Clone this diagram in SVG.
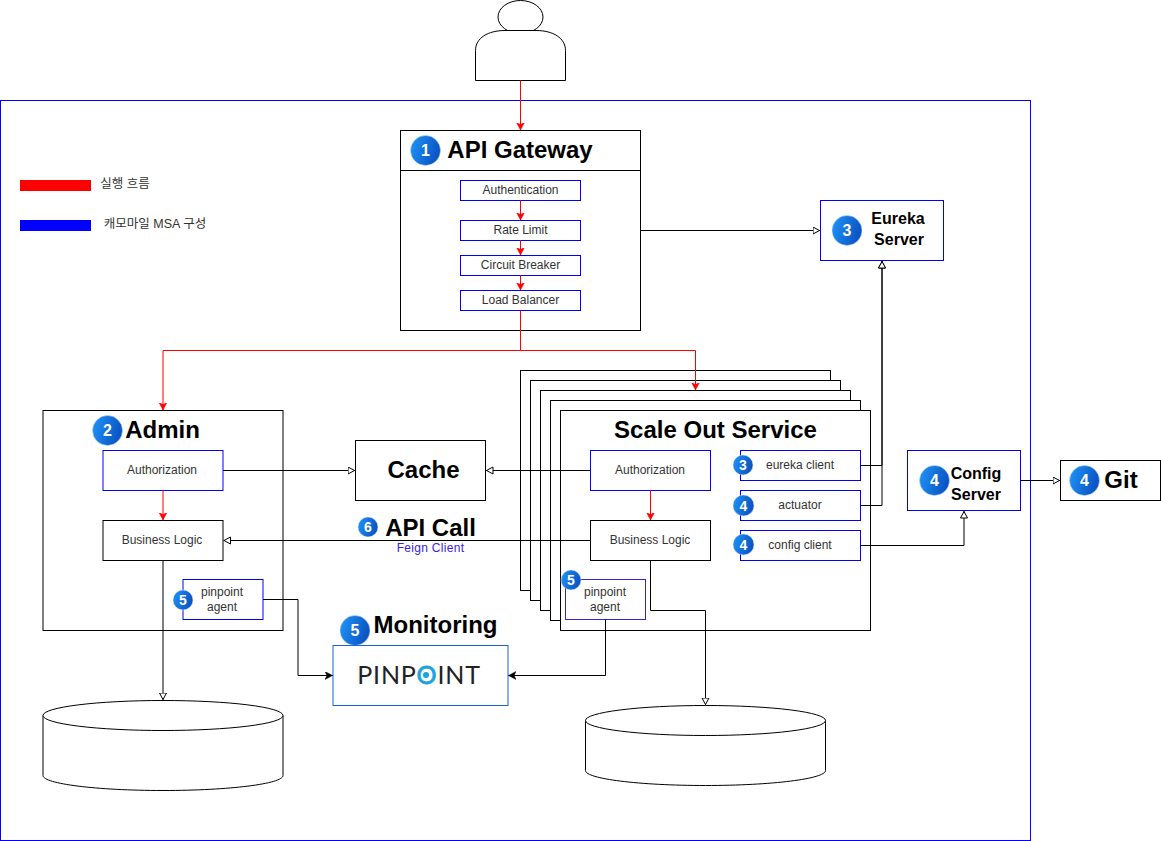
<svg xmlns="http://www.w3.org/2000/svg" width="1161" height="841" viewBox="0 0 1161 841">
<style>
text{font-family:"Liberation Sans","Noto Sans CJK KR",sans-serif;text-anchor:middle;fill:#1a1a1a}
.s{font-size:12px;fill:#333}
.l{font-size:12.5px;fill:#333}
.h{font-size:24px;font-weight:700;fill:#000}
.m{font-size:16px;font-weight:700;fill:#000}
.bt{fill:#fff;font-weight:700;text-anchor:middle}
.k{fill:#fff;stroke:#000;stroke-width:1}
.b{fill:#fff;stroke:#00f;stroke-width:1}
.p{fill:#fff;stroke:#3a22d0;stroke-width:1}
.bd{fill:url(#g);stroke:#cfe3fa;stroke-width:.5}
.cr{fill:none;stroke:#f00;stroke-width:1;marker-end:url(#ra)}
.ch{fill:none;stroke:#000;stroke-width:1;marker-end:url(#ha)}
.cb{fill:none;stroke:#000;stroke-width:1;marker-end:url(#ba)}
.cn{fill:none;stroke:#f00;stroke-width:1}
</style>
<defs>
<linearGradient id="g" x1="0" y1="0" x2="1" y2="0.3"><stop offset="0" stop-color="#2196f8"/><stop offset="1" stop-color="#0a55c4"/></linearGradient>
<marker id="ra" markerUnits="userSpaceOnUse" markerWidth="9" markerHeight="9" refX="7.500" refY="4" orient="auto"><path d="M0 0L7.500 4L0 8L2 4Z" fill="#f00" stroke="#f00" stroke-width=".5"/></marker>
<marker id="ba" markerUnits="userSpaceOnUse" markerWidth="9" markerHeight="9" refX="7.500" refY="4" orient="auto"><path d="M0 0L7.500 4L0 8L2 4Z" fill="#000" stroke="#000" stroke-width=".5"/></marker>
<marker id="ha" markerUnits="userSpaceOnUse" markerWidth="10" markerHeight="10" refX="7.500" refY="4" orient="auto"><path d="M.5 .5L7 4L.5 7.500Z" fill="#fff" stroke="#000" stroke-width="1"/></marker>
</defs>
<rect id="boundary" x="0.500" y="100.500" width="1030" height="740" fill="#fff" stroke="#00f"/>
<g id="legend">
<rect x="20" y="180" width="71" height="11" fill="#f00"/>
<text class="l" x="125" y="188">실행 흐름</text>
<rect x="20" y="220" width="71" height="11" fill="#00f"/>
<text class="l" x="155" y="228">캐모마일 MSA 구성</text>
</g>
<g id="user"><ellipse cx="520.500" cy="17" rx="22.500" ry="16.500" class="k"/><path class="k" d="M475.500 80.500V50.500C475.500 38 488 30.500 505 30.500H536C553 30.500 565.500 38 565.500 50.500V80.500Z"/></g>
<g id="gateway">
<rect class="k" x="400.500" y="130.500" width="240" height="200"/><path d="M400.500 170.500H640.500" stroke="#000"/>
<circle class="bd" cx="425.500" cy="150.500" r="15"/><text class="bt" x="425.500" y="156" font-size="16">1</text>
<text class="h" x="520" y="158">API Gateway</text>
</g>
<g id="auth"><rect class="b" x="460.500" y="180.500" width="120" height="20"/><text class="s" x="520.500" y="194">Authentication</text></g>
<g id="rate"><rect class="b" x="460.500" y="220.500" width="120" height="20"/><text class="s" x="520.500" y="234">Rate Limit</text></g>
<g id="circuit"><rect class="b" x="460.500" y="255.500" width="120" height="20"/><text class="s" x="520.500" y="269">Circuit Breaker</text></g>
<g id="load"><rect class="b" x="460.500" y="290.500" width="120" height="20"/><text class="s" x="520.500" y="304">Load Balancer</text></g>
<g id="eureka"><rect class="b" x="820.500" y="200.500" width="123" height="60"/><circle class="bd" cx="847" cy="230.500" r="15"/><text class="bt" x="847" y="236" font-size="16">3</text><text class="m" x="898" y="224">Eureka</text><text class="m" x="899" y="245">Server</text></g>
<g id="admin"><rect class="k" x="43" y="410.500" width="240" height="220"/><circle class="bd" cx="107.500" cy="430.500" r="15"/><text class="bt" x="107.500" y="436" font-size="16">2</text><text class="h" x="162.500" y="438">Admin</text></g>
<g id="admin-authorization"><rect class="b" x="103" y="450.500" width="120" height="40"/><text class="s" x="162" y="474">Authorization</text></g>
<g id="admin-logic"><rect class="k" x="103" y="520.500" width="120" height="40"/><text class="s" x="162" y="544">Business Logic</text></g>
<g id="admin-agent"><rect class="b" x="183" y="579.500" width="80" height="40"/><circle class="bd" cx="183" cy="600" r="10"/><text class="bt" x="183" y="605" font-size="14">5</text><text class="s" x="222" y="596">pinpoint</text><text class="s" x="222" y="611">agent</text></g>
<g id="cache"><rect class="k" x="355.500" y="440.500" width="130" height="60"/><text class="h" x="423.500" y="478">Cache</text></g>
<g id="service">
<rect class="k" x="520.500" y="370.500" width="310" height="220"/>
<rect class="k" x="530.500" y="380.500" width="310" height="220"/>
<rect class="k" x="540.500" y="390.500" width="310" height="220"/>
<rect class="k" x="550.500" y="400.500" width="310" height="220"/>
<rect class="k" x="560.500" y="410.500" width="310" height="220"/>
<text class="h" x="715.500" y="438">Scale Out Service</text>
</g>
<g id="svc-authorization"><rect class="b" x="590.500" y="450.500" width="120" height="40"/><text class="s" x="650" y="474">Authorization</text></g>
<g id="svc-logic"><rect class="k" x="590.500" y="520.500" width="120" height="40"/><text class="s" x="650" y="544">Business Logic</text></g>
<g id="svc-agent"><rect class="p" x="565.500" y="579.500" width="80" height="40"/><circle class="bd" cx="571" cy="580" r="10"/><text class="bt" x="571" y="585" font-size="14">5</text><text class="s" x="605" y="596">pinpoint</text><text class="s" x="605" y="611">agent</text></g>
<g id="eureka-client"><rect class="b" x="740.500" y="450.500" width="120" height="30"/><circle class="bd" cx="743" cy="465" r="10"/><text class="bt" x="743" y="470" font-size="14">3</text><text class="s" x="800" y="469">eureka client</text></g>
<g id="actuator"><rect class="b" x="740.500" y="490.500" width="120" height="30"/><circle class="bd" cx="743.500" cy="505.500" r="10.500"/><text class="bt" x="743.500" y="510.500" font-size="14">4</text><text class="s" x="800" y="509">actuator</text></g>
<g id="config-client"><rect class="b" x="740.500" y="530.500" width="120" height="30"/><circle class="bd" cx="743.500" cy="544.500" r="10.500"/><text class="bt" x="743.500" y="549.500" font-size="14">4</text><text class="s" x="800" y="549">config client</text></g>
<g id="config-server"><rect class="b" x="907.500" y="450.500" width="113" height="60"/><circle class="bd" cx="934.500" cy="480.500" r="15"/><text class="bt" x="934.500" y="486" font-size="16">4</text><text class="m" x="976" y="479">Config</text><text class="m" x="976" y="500">Server</text></g>
<g id="git"><rect class="k" x="1060.500" y="460.500" width="100" height="40"/><circle class="bd" cx="1084.500" cy="480.500" r="15"/><text class="bt" x="1084.500" y="486" font-size="16">4</text><text class="h" x="1121" y="488">Git</text></g>
<g id="monitoring"><circle class="bd" cx="355" cy="630.500" r="15"/><text class="bt" x="355" y="636" font-size="16">5</text><text class="h" x="435.500" y="633">Monitoring</text>
<rect x="333" y="645.500" width="175" height="60" fill="#fff" stroke="#1a62d6"/>
<text x="419" y="684" style="font-family:Lato,'Open Sans',sans-serif;font-size:25px;font-weight:400;letter-spacing:.8px;fill:#222">PINP<tspan style="fill:#1ba3e0;stroke:#1ba3e0;stroke-width:.8">O</tspan>INT</text>
<circle cx="426" cy="675" r="3" fill="#1ba3e0"/></g>
<g id="db-admin"><path class="k" d="M43 715.500V775.500C43 783.800 96.500 790.500 163 790.500S283 783.800 283 775.500V715.500"/><ellipse class="k" cx="163" cy="715.500" rx="120" ry="15"/></g>
<g id="db-service"><path class="k" d="M585.500 720.500V770.500C585.500 778.800 639 785.500 705.500 785.500S825.500 778.800 825.500 770.500V720.500"/><ellipse class="k" cx="705.500" cy="720.500" rx="120" ry="15"/></g>
<g id="api-call"><circle class="bd" cx="368" cy="527" r="10"/><text class="bt" x="368" y="532" font-size="14">6</text><text class="h" x="430.500" y="535.500">API Call</text><text x="430.500" y="552" style="font-size:12px;fill:#3a22e0;letter-spacing:.3px">Feign Client</text></g>
<g id="connectors">
<path class="cr" d="M520.500 80.500V130"/>
<path class="cr" d="M520.500 200.500V220"/>
<path class="cr" d="M520.500 240.500V255"/>
<path class="cr" d="M520.500 275.500V290"/>
<path class="cn" d="M520.500 310.500V350.500"/>
<path class="cr" d="M520.500 350.500H163V410"/>
<path class="cr" d="M520.500 350.500H695.500V390"/>
<path class="cr" d="M163 490.500V520"/>
<path class="cr" d="M650.500 490.500V520"/>
<path class="ch" d="M640.500 230.500H820"/>
<path class="ch" d="M223 470.500H355"/>
<path class="ch" d="M590.500 470.500H486"/>
<path class="ch" d="M590.500 540.500H223.500"/>
<path class="ch" d="M860.500 465.500H882V261"/>
<path class="ch" d="M860.500 505.500H882V261"/>
<path class="ch" d="M860.500 545.500H964V511"/>
<path class="ch" d="M1020.500 480.500H1060"/>
<path class="ch" d="M163 560.500V700"/>
<path class="ch" d="M650.500 560.500V610.500H705.500V705"/>
<path class="cb" d="M263 599.500H298V675.500H332.500"/>
<path class="cb" d="M605.500 619.500V675.500H508.500"/>
</g>
</svg>
